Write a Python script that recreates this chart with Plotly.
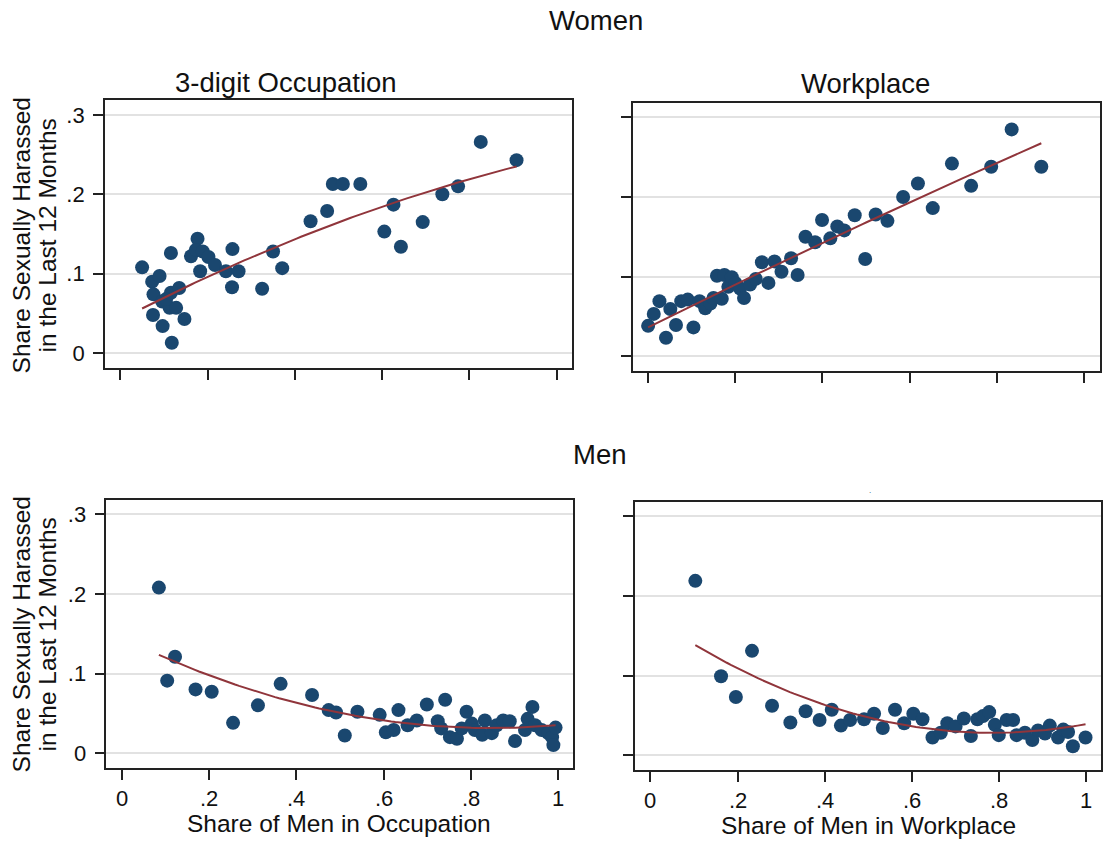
import numpy as np
import plotly.graph_objects as go

W, H = 1103, 841

# ---------------- data ----------------
wo_occ_x = [0.050, 0.073, 0.090, 0.076, 0.116, 0.096, 0.116, 0.135, 0.113, 0.128, 0.105,
            0.075, 0.097, 0.147, 0.118, 0.177, 0.162, 0.173, 0.189, 0.202, 0.217, 0.183,
            0.242, 0.271, 0.257, 0.256, 0.325, 0.350, 0.371, 0.436, 0.474, 0.487, 0.510,
            0.550, 0.605, 0.626, 0.643, 0.693, 0.738, 0.774, 0.826, 0.908]
wo_occ_y = [0.108, 0.090, 0.097, 0.074, 0.126, 0.065, 0.076, 0.082, 0.057, 0.057, 0.068,
            0.048, 0.034, 0.043, 0.013, 0.144, 0.122, 0.130, 0.128, 0.121, 0.111, 0.103,
            0.103, 0.103, 0.131, 0.083, 0.081, 0.128, 0.107, 0.166, 0.179, 0.213, 0.213,
            0.213, 0.153, 0.187, 0.134, 0.165, 0.200, 0.210, 0.266, 0.243]
# fitted curve
wo_occ_fit_x = [0.050, 0.200, 0.351, 0.500, 0.628, 0.738, 0.908]
wo_occ_fit_y = [0.057, 0.095, 0.131, 0.166, 0.191, 0.208, 0.235]

wo_wp_x = [0.000, 0.013, 0.026, 0.041, 0.051, 0.064, 0.076, 0.091, 0.104, 0.118, 0.131,
           0.143, 0.150, 0.158, 0.169, 0.175, 0.184, 0.192, 0.200, 0.211, 0.220, 0.234,
           0.247, 0.261, 0.276, 0.290, 0.306, 0.328, 0.343, 0.361, 0.383, 0.399, 0.418,
           0.434, 0.450, 0.474, 0.498, 0.522, 0.549, 0.585, 0.619, 0.653, 0.697, 0.741,
           0.787, 0.834, 0.902]
wo_wp_y = [0.038, 0.053, 0.069, 0.023, 0.059, 0.039, 0.069, 0.071, 0.036, 0.069, 0.060,
           0.066, 0.073, 0.101, 0.072, 0.102, 0.087, 0.099, 0.092, 0.085, 0.073, 0.090,
           0.097, 0.118, 0.092, 0.119, 0.106, 0.123, 0.102, 0.150, 0.143, 0.171, 0.148,
           0.163, 0.158, 0.177, 0.122, 0.178, 0.170, 0.200, 0.217, 0.186, 0.242, 0.214,
           0.238, 0.285, 0.238]

men_occ_x = [0.085, 0.122, 0.104, 0.169, 0.206, 0.255, 0.312, 0.364, 0.436, 0.474, 0.491,
             0.511, 0.540, 0.591, 0.605, 0.623, 0.634, 0.655, 0.676, 0.699, 0.724, 0.732,
             0.741, 0.752, 0.768, 0.779, 0.790, 0.802, 0.809, 0.826, 0.832, 0.848, 0.859,
             0.874, 0.889, 0.901, 0.924, 0.930, 0.941, 0.947, 0.962, 0.977, 0.986, 0.994,
             0.989]
men_occ_y = [0.208, 0.121, 0.091, 0.080, 0.077, 0.038, 0.060, 0.087, 0.073, 0.054, 0.051,
             0.022, 0.052, 0.048, 0.026, 0.029, 0.054, 0.035, 0.041, 0.061, 0.040, 0.031,
             0.067, 0.020, 0.018, 0.031, 0.052, 0.037, 0.029, 0.023, 0.041, 0.025, 0.035,
             0.041, 0.040, 0.015, 0.029, 0.043, 0.058, 0.035, 0.029, 0.025, 0.020, 0.032,
             0.010]

men_wp_x = [0.103, 0.162, 0.196, 0.233, 0.279, 0.321, 0.356, 0.388, 0.416, 0.437, 0.458,
            0.490, 0.513, 0.533, 0.561, 0.582, 0.603, 0.624, 0.647, 0.666, 0.681, 0.700,
            0.719, 0.735, 0.750, 0.763, 0.777, 0.790, 0.799, 0.817, 0.832, 0.840, 0.859,
            0.876, 0.889, 0.905, 0.916, 0.935, 0.947, 0.958, 0.969, 0.998]
men_wp_y = [0.219, 0.099, 0.073, 0.131, 0.062, 0.041, 0.055, 0.044, 0.057, 0.037, 0.044,
            0.045, 0.052, 0.034, 0.057, 0.040, 0.052, 0.045, 0.022, 0.028, 0.040, 0.036,
            0.046, 0.024, 0.045, 0.049, 0.054, 0.038, 0.025, 0.044, 0.044, 0.025, 0.028,
            0.019, 0.031, 0.027, 0.037, 0.022, 0.032, 0.029, 0.011, 0.022]

x_tickvals = [0, 0.2, 0.4, 0.6, 0.8, 1.0]
x_ticktext = ["0", ".2", ".4", ".6", ".8", "1"]
y_tickvals = [0, 0.1, 0.2, 0.3]
y_ticktext = ["0", ".1", ".2", ".3"]

panel_titles = ["3-digit Occupation", "Workplace"]
row_titles = ["Women", "Men"]
x_titles = ["Share of Men in Occupation", "Share of Men in Workplace"]
y_title_lines = ["Share Sexually Harassed", "in the Last 12 Months"]

# ---------------- styling ----------------
NAVY = "#1a476f"
MAROON = "#90353b"
FONT = "Liberation Sans, Arial, sans-serif"

def fx(p):
    return p / W

def fy(p):
    return 1 - p / H

# panel frames in pixels: (left, right, top, bottom)
frames = [
    (105, 573, 100, 368),        # women occupation
    (634, 1101.5, 102.5, 371),   # women workplace
    (106.5, 574.5, 499.5, 768),  # men occupation
    (636, 1103, 501.5, 770),     # men workplace
]
xranges = [[-0.0355, 1.035], [-0.035, 1.0355], [-0.0355, 1.035], [-0.0357, 1.0335]]
yrange = [-0.0188, 0.3188]

series = [(wo_occ_x, wo_occ_y), (wo_wp_x, wo_wp_y), (men_occ_x, men_occ_y), (men_wp_x, men_wp_y)]

fig = go.Figure()
layout_axes = {}
annotations = []

def txt(text, x, y, size, angle=0, color="#111", xref="paper"):
    annotations.append(dict(text=text, x=(fx(x) if xref == "paper" else x), y=fy(y),
                            xref=xref, yref="paper",
                            xanchor="center", yanchor="middle", showarrow=False,
                            textangle=angle, font=dict(family=FONT, size=size, color=color)))

for i, ((xs, ys), fr) in enumerate(zip(series, frames)):
    k = "" if i == 0 else str(i + 1)
    xa, ya = "x" + k, "y" + k
    fig.add_trace(go.Scatter(x=xs, y=ys, mode="markers", xaxis=xa, yaxis=ya,
                             marker=dict(color=NAVY, size=14, line=dict(width=0)),
                             showlegend=False, hoverinfo="x+y"))
    # quadratic fit (qfit): of the read curve for panel 1, of the scatter otherwise
    fx_src, fy_src = (wo_occ_fit_x, wo_occ_fit_y) if i == 0 else (xs, ys)
    coef = np.polyfit(np.array(fx_src), np.array(fy_src), 2)
    gx = np.linspace(min(xs), max(xs), 100)
    fig.add_trace(go.Scatter(x=gx, y=np.polyval(coef, gx), mode="lines", xaxis=xa, yaxis=ya,
                             line=dict(color=MAROON, width=2), showlegend=False,
                             hoverinfo="skip"))
    l, r, t, b = fr
    bottom_row = i >= 2
    left_col = i % 2 == 0
    layout_axes["xaxis" + k] = dict(
        domain=[fx(l), min(fx(r), 1.0)], anchor=ya, range=xranges[i],
        tickvals=x_tickvals, showticklabels=False, ticks="outside", ticklen=10,
        tickwidth=1.5, tickcolor="#222", showgrid=False, zeroline=False, showline=True,
        mirror=True, linecolor="#222", linewidth=1.5, fixedrange=True)
    layout_axes["yaxis" + k] = dict(
        domain=[fy(b), fy(t)], anchor=xa, range=yrange,
        tickvals=y_tickvals, ticktext=y_ticktext,
        showticklabels=left_col, ticks="outside", ticklen=10, tickwidth=1.5,
        tickcolor="#222", showgrid=True, gridcolor="#e2e2e2", gridwidth=2,
        zeroline=False, showline=True, mirror=True, linecolor="#222", linewidth=1.5,
        ticklabelstandoff=4,
        tickfont=dict(family=FONT, size=22, color="#111"), fixedrange=True)
    if bottom_row:
        # x tick labels, placed at the axis values
        for v, s in zip(x_tickvals, x_ticktext):
            txt(s, v, b + 30, 22, xref=xa)

txt(row_titles[0], 597, 21, 27.5)
txt(row_titles[1], 601, 455, 27.5)
txt(panel_titles[0], 287, 82, 27.5)
txt(panel_titles[1], 867, 83, 27.5)
txt(x_titles[0], 340, 823, 24.5)
txt(x_titles[1], 870, 825, 24.5)
for yc in (235, 634):
    txt(y_title_lines[0], 21.5, yc, 24.5, angle=-90)
    txt(y_title_lines[1], 47.5, yc, 24.5, angle=-90)
txt(".", 872, 490, 8, color=NAVY)

fig.update_layout(width=W, height=H, margin=dict(l=0, r=0, t=0, b=0),
                  paper_bgcolor="white", plot_bgcolor="white",
                  annotations=annotations, **layout_axes)

fig.write_html("out.html")
